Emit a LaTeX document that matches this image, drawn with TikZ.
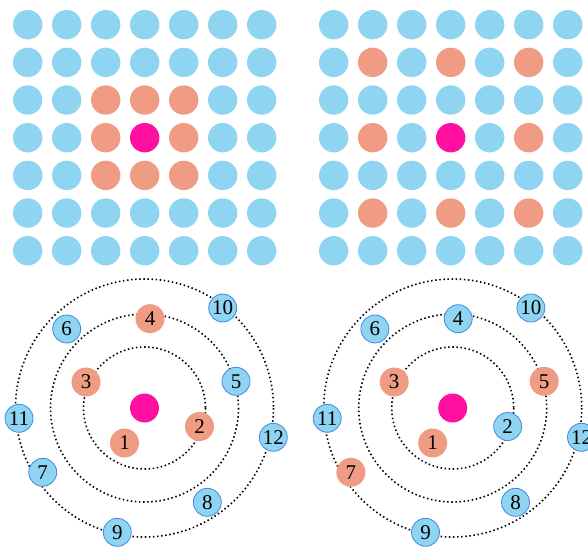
\documentclass[tikz,border=0pt]{standalone}
\usepackage{fontspec}
\setmainfont{Liberation Serif}
\definecolor{cblue}{RGB}{143,212,241}
\definecolor{corange}{RGB}{240,156,133}
\definecolor{cmag}{RGB}{255,16,160}
\definecolor{cedge}{RGB}{66,136,224}
\begin{document}
\begin{tikzpicture}[x=1pt,y=-1pt,
  dot/.style={circle,inner sep=0pt,minimum size=29.4pt},
  bdot/.style={dot,fill=cblue},
  odot/.style={dot,fill=corange},
  mdot/.style={dot,fill=cmag},
  orbit/.style={draw=black,line width=1.6pt,dash pattern=on 1.5pt off 2.6pt},
  numfont/.style={font=\fontsize{21}{21}\selectfont,text=black},
  bnum/.style={circle,inner sep=0pt,minimum size=28pt,fill=cblue,draw=cedge,line width=0.8pt,numfont},
  onum/.style={circle,inner sep=0pt,minimum size=29pt,fill=corange,numfont}]
\useasboundingbox (0,0) rectangle (588,546);
% top grids
\foreach \r in {0,...,6}{
  \foreach \c in {0,...,6}{
    \pgfmathtruncatemacro\isc{(\r==3)&&(\c==3)}
    \pgfmathtruncatemacro\isoL{(abs(\r-3)<2)&&(abs(\c-3)<2)}
    \pgfmathtruncatemacro\isoR{(mod(\r,2)==1)&&(mod(\c,2)==1)}
    \ifnum\isc=1 \def\styL{mdot}\def\styR{mdot}\else
      \ifnum\isoL=1 \def\styL{odot}\else\def\styL{bdot}\fi
      \ifnum\isoR=1 \def\styR{odot}\else\def\styR{bdot}\fi
    \fi
    \node[\styL] (gL\r\c) at ({27.7+39*\c},{24.7+37.67*\r}) {};
    \node[\styR] (gR\r\c) at ({333.7+39*\c},{24.7+37.67*\r}) {};
  }
}
% bottom orbits
\coordinate (oL) at (144.5,408);
\coordinate (oR) at (452.7,408);
\foreach \o in {oL,oR}{
  \draw[orbit] (\o) circle[radius=61];
  \draw[orbit] (\o) circle[radius=94];
  \draw[orbit] (\o) circle[radius=129];
}
\node[mdot,minimum size=29pt] (cL) at (oL) {};
\node[mdot,minimum size=29pt] (cR) at (oR) {};
\foreach \n/\dx/\dy/\sl/\sr in {
  1/-20/35/onum/onum,
  2/55/18.5/onum/bnum,
  3/-58.5/-26/onum/onum,
  4/5.5/-89.3/onum/bnum,
  5/91.5/-26.7/bnum/onum,
  6/-77.8/-79/bnum/bnum,
  7/-101.8/64.3/bnum/onum,
  8/62.8/94.3/bnum/bnum,
  9/-27.2/124.3/bnum/bnum,
  10/78.2/-100/bnum/bnum,
  11/-125.5/10.3/bnum/bnum,
  12/128.8/29.3/bnum/bnum}{
  \node[\sl] (l\n) at ({144.5+\dx},{408+\dy}) {\n};
  \node[\sr] (r\n) at ({452.7+\dx},{408+\dy}) {\n};
}
\end{tikzpicture}
\end{document}
